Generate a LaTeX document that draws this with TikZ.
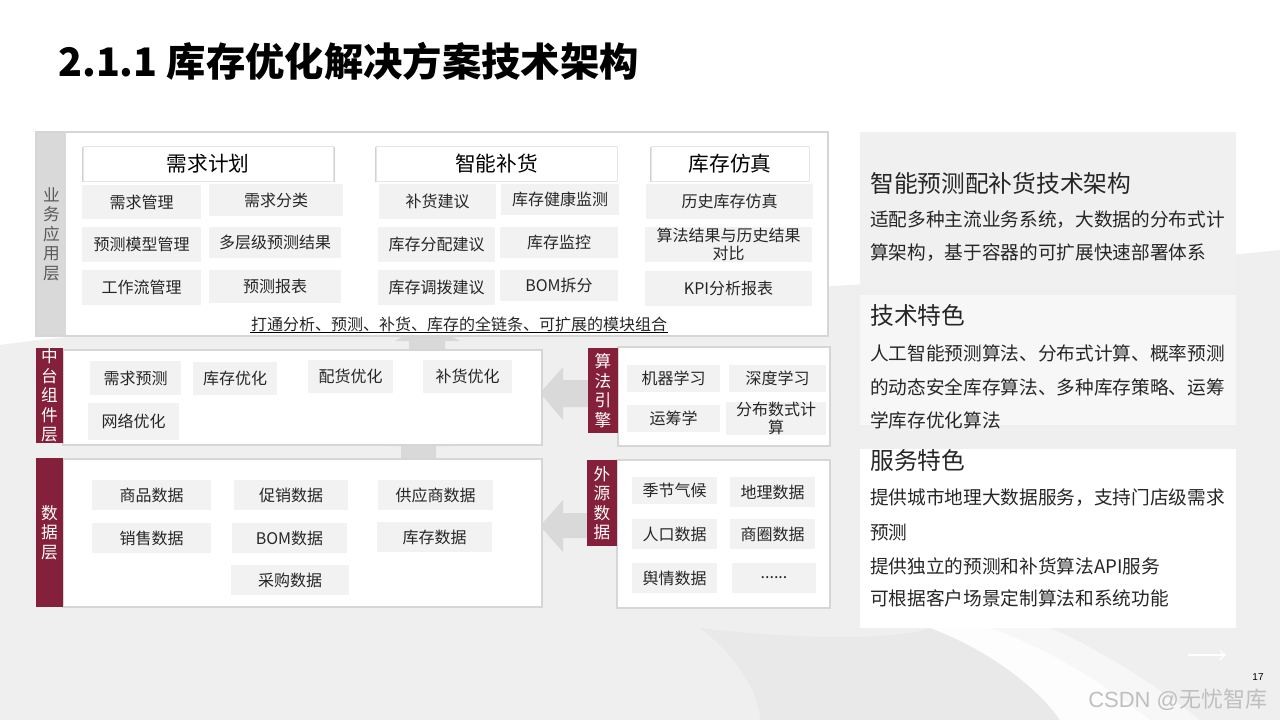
\documentclass[tikz,border=0pt]{standalone}
\usepackage{fontspec}
\setmainfont{Noto Sans CJK SC}
\newfontfamily\latinfont{Liberation Sans}
\usetikzlibrary{shadows,arrows.meta}
\definecolor{lblred}{HTML}{84203A}
\definecolor{lblgray}{HTML}{D9D9D9}
\definecolor{subgray}{HTML}{F2F2F2}
\definecolor{bordergray}{HTML}{D6D6D6}
\definecolor{txt}{HTML}{262626}
\definecolor{txtgray}{HTML}{595959}
\definecolor{bggray}{HTML}{EFEFEF}
\definecolor{arrowgray}{HTML}{D9D9D9}
\definecolor{panelgray}{HTML}{F0F0F0}
\newcommand\bx[7][]{\node[#1, minimum width={(#4-#2)*0.75pt}, minimum height={(#5-#3)*0.75pt}] (#6) at ({(#2+#4)/2},{(#3+#5)/2}) {#7};}
\begin{document}
\begin{tikzpicture}[x=0.75pt,y=-0.75pt,
  layer/.style={draw=bordergray, line width=1pt, fill=white, inner sep=0pt,
    drop shadow={shadow xshift=0.8pt,shadow yshift=-0.8pt,opacity=0.12}},
  sub/.style={fill=subgray, inner sep=0pt, text=txt, align=center,
    font=\fontsize{12}{13}\selectfont},
  hdr/.style={fill=white, draw=black!10, inner sep=0pt, text=black,
    font=\fontsize{15.5}{17}\selectfont,
    drop shadow={shadow xshift=0pt,shadow yshift=-0.6pt,shadow scale=1.012,opacity=0.35}},
  lab/.style={fill=lblred, text=white, inner sep=0pt, align=center,
    font=\fontsize{12.5}{14.6}\selectfont},
  blockarrow/.style={fill=arrowgray},
  ptitle/.style={anchor=west, inner sep=0pt, text=txt, font=\fontsize{17.8}{20}\selectfont},
  pbody/.style={anchor=west, inner sep=0pt, text=txt, font=\fontsize{14}{16}\selectfont},
]
\useasboundingbox (0,0) rectangle (1280,720);
% background
\fill[white] (0,0) rectangle (1280,720);
\fill[bggray] (0,345) .. controls (300,305) and (800,300) .. (1280,250) -- (1280,720) -- (0,720) -- cycle;
\fill[black!10, opacity=0.6] (700,628) .. controls (800,640) and (900,640) .. (930,628) .. controls (990,650) and (1040,690) .. (1060,720) -- (760,720) .. controls (760,690) and (730,650) .. (700,628) -- cycle;
\fill[white, opacity=0.9] (930,628) .. controls (990,650) and (1040,690) .. (1060,720) -- (1150,720) .. controls (1100,680) and (1040,645) .. (990,628) -- cycle;
\fill[white, opacity=0.5] (990,628) .. controls (1040,645) and (1100,680) .. (1150,720) -- (1200,720) .. controls (1150,680) and (1090,645) .. (1050,628) -- cycle;

% title
\node[anchor=west, inner sep=0pt, text=black, font=\bfseries\fontsize{29.5}{32}\selectfont] (title) at (58,61) {2.1.1 库存优化解决方案技术架构};

% block arrows
\fill[blockarrow] (395,341) -- (427,322) -- (460,341) -- (445,341) -- (445,352) -- (409,352) -- (409,341) -- cycle;
\fill[blockarrow] (387,446) -- (418,436) -- (449,446) -- (436,446) -- (436,460) -- (401,460) -- (401,446) -- cycle;
\fill[blockarrow] (540,393) -- (563,367) -- (563,380) -- (590,380) -- (590,407) -- (563,407) -- (563,420) -- cycle;
\fill[blockarrow] (540,526) -- (563,500) -- (563,513) -- (590,513) -- (590,538) -- (563,538) -- (563,552) -- cycle;

% business layer
\bx[layer]{36}{132}{828}{336}{biz}{}
\bx[lab, fill=lblgray, text=txtgray]{37}{133}{66}{335}{bizlab}{业\\务\\应\\用\\层}
\bx[hdr]{83}{146}{333}{181}{h1}{需求计划}
\bx[hdr]{376}{146}{617}{181}{h2}{智能补货}
\bx[hdr]{651}{146}{809}{181}{h3}{库存仿真}
\bx[sub]{82}{185}{201}{219}{b11}{需求管理}
\bx[sub]{209}{184}{343}{216}{b12}{需求分类}
\bx[sub]{82}{227}{201}{262}{b21}{预测模型管理}
\bx[sub]{209}{227}{341}{258}{b22}{多层级预测结果}
\bx[sub]{82}{270}{201}{305}{b31}{工作流管理}
\bx[sub]{209}{270}{341}{303}{b32}{预测报表}
\bx[sub]{379}{184}{496}{219}{c11}{补货建议}
\bx[sub]{501}{184}{619}{215}{c12}{库存健康监测}
\bx[sub]{378}{227}{495}{262}{c21}{库存分配建议}
\bx[sub]{500}{227}{618}{258}{c22}{库存监控}
\bx[sub]{378}{270}{495}{305}{c31}{库存调拨建议}
\bx[sub]{500}{270}{618}{301}{c32}{BOM拆分}
\bx[sub]{646}{184}{813}{219}{d11}{历史库存仿真}
\bx[sub]{645}{227}{812}{262}{d21}{算法结果与历史结果\\对比}
\bx[sub]{645}{271}{812}{306}{d31}{KPI分析报表}
\node[inner sep=0.6pt, text=txt, font=\fontsize{12}{13}\selectfont] (ul) at (459,324) {打通分析、预测、补货、库存的全链条、可扩展的模块组合};
\draw[black, line width=0.7pt] (ul.south west) -- (ul.south east);

% middle layer
\bx[layer]{63}{350}{542}{445}{mid}{}
\bx[lab]{36}{348}{63}{443}{midlab}{中\\台\\组\\件\\层}
\bx[sub]{90}{361}{181}{395}{m1}{需求预测}
\bx[sub]{193}{362}{277}{395}{m2}{库存优化}
\bx[sub]{308}{360}{393}{393}{m3}{配货优化}
\bx[sub]{423}{360}{512}{393}{m4}{补货优化}
\bx[sub]{88}{403}{179}{440}{m5}{网络优化}

% data layer
\bx[layer]{63}{459}{542}{607}{dat}{}
\bx[lab]{36}{458}{63}{607}{datlab}{数\\据\\层}
\bx[sub]{92}{480}{211}{510}{e1}{商品数据}
\bx[sub]{234}{480}{348}{510}{e2}{促销数据}
\bx[sub]{378}{480}{493}{510}{e3}{供应商数据}
\bx[sub]{92}{523}{211}{553}{e4}{销售数据}
\bx[sub]{232}{523}{347}{553}{e5}{BOM数据}
\bx[sub]{377}{522}{492}{552}{e6}{库存数据}
\bx[sub]{231}{565}{349}{595}{e7}{采购数据}

% algorithm engine
\bx[layer]{618}{347}{830}{446}{alg}{}
\bx[lab]{588}{348}{618}{433}{alglab}{算\\法\\引\\擎}
\bx[sub]{627}{365}{720}{392}{a1}{机器学习}
\bx[sub]{729}{365}{826}{392}{a2}{深度学习}
\bx[sub]{627}{405}{720}{432}{a3}{运筹学}
\bx[sub]{726}{405}{826}{432}{a4}{分布数式计\\算}

% external data
\bx[layer]{617}{460}{830}{608}{ext}{}
\bx[lab]{587}{460}{617}{546}{extlab}{外\\源\\数\\据}
\bx[sub]{632}{477}{717}{504}{x1}{季节气候}
\bx[sub]{730}{477}{815}{507}{x2}{地理数据}
\bx[sub]{632}{519}{717}{549}{x3}{人口数据}
\bx[sub]{730}{519}{815}{549}{x4}{商圈数据}
\bx[sub]{632}{563}{717}{593}{x5}{舆情数据}
\bx[sub]{732}{563}{816}{593}{x6}{......}

% right panels
\bx[fill=panelgray, inner sep=0pt]{860}{132}{1236}{289}{p1}{}
\node[ptitle] (p1t) at (870,183) {智能预测配补货技术架构};
\node[pbody] (p1a) at (870,220) {适配多种主流业务系统，大数据的分布式计};
\node[pbody] (p1b) at (870,253) {算架构，基于容器的可扩展快速部署体系};
\bx[fill=white, fill opacity=0.55, inner sep=0pt]{860}{295}{1236}{425}{p2}{}
\node[ptitle] (p2t) at (870,315) {技术特色};
\node[pbody] (p2a) at (870,353) {人工智能预测算法、分布式计算、概率预测};
\node[pbody] (p2b) at (870,387) {的动态安全库存算法、多种库存策略、运筹};
\node[pbody] (p2c) at (870,420) {学库存优化算法};
\bx[fill=white, inner sep=0pt]{860}{449}{1236}{628}{p3}{}
\node[ptitle] (p3t) at (870,460) {服务特色};
\node[pbody] (p3a) at (870,498) {提供城市地理大数据服务，支持门店级需求};
\node[pbody] (p3b) at (870,532) {预测};
\node[pbody] (p3c) at (870,566) {提供独立的预测和补货算法API服务};
\node[pbody] (p3d) at (870,598) {可根据客户场景定制算法和系统功能};

% footer
\coordinate (arrA) at (1188,655);
\coordinate (arrB) at (1226,655);
\draw[white, line width=0.9pt, -{Straight Barb[length=4pt,width=7pt]}] (arrA) -- (arrB);
\node[anchor=west, inner sep=0pt, text=black!25, font=\fontsize{16.5}{18}\selectfont] (wm) at (1088,700) {{\latinfont CSDN @}无忧智库};
\node[inner sep=0pt, text=black, font=\latinfont\fontsize{7.5}{8}\selectfont] (pg) at (1258,677) {17};
\end{tikzpicture}
\end{document}
